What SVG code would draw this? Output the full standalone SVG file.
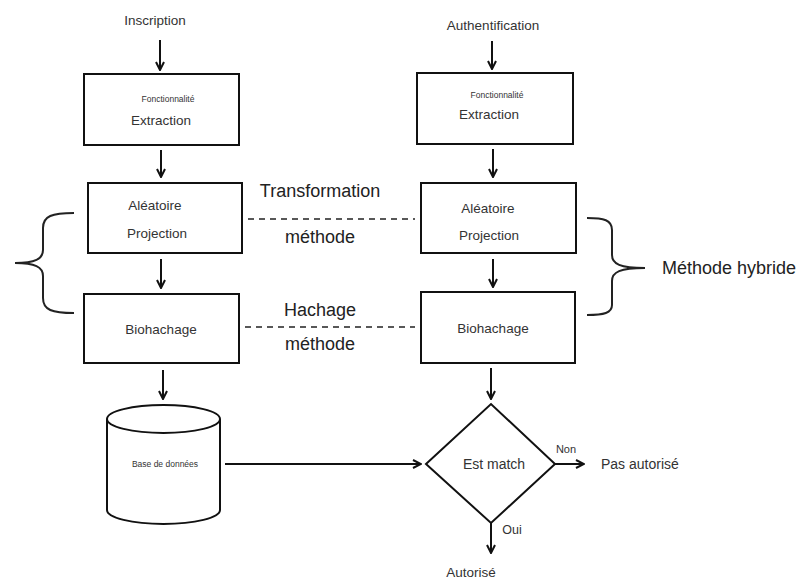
<svg xmlns="http://www.w3.org/2000/svg" width="800" height="580" viewBox="0 0 800 580">
<defs>
<style>
.box{fill:#fff;stroke:#111;stroke-width:2}
.ln{fill:none;stroke:#111;stroke-width:2}
.dash{fill:none;stroke:#222;stroke-width:1.5;stroke-dasharray:6 5}
.brace{fill:none;stroke:#222;stroke-width:2}
text{font-family:"Liberation Sans",Arial,sans-serif;fill:#333;text-anchor:middle;dominant-baseline:central}
.t{font-size:13.5px}
.s{font-size:8.5px}
.big{font-size:18px;fill:#222}
</style>
<marker id="ah" viewBox="0 0 10 10" refX="9" refY="5" markerWidth="10" markerHeight="10" markerUnits="userSpaceOnUse" orient="auto">
<path d="M1,1 L9,5 L1,9" fill="none" stroke="#111" stroke-width="2"/>
</marker>
</defs>
<rect width="800" height="580" fill="#fff"/>

<g id="inscription"><text class="t" x="155" y="20">Inscription</text></g>
<g id="authentification"><text class="t" x="493" y="25">Authentification</text></g>

<g id="extraction-left">
<rect class="box" x="84" y="74" width="155" height="71"/>
<text class="s" x="168" y="99">Fonctionnalité</text>
<text class="t" x="161" y="120">Extraction</text>
</g>
<g id="extraction-right">
<rect class="box" x="417" y="73" width="156" height="71"/>
<text class="s" x="497" y="95">Fonctionnalité</text>
<text class="t" x="489" y="114">Extraction</text>
</g>

<g id="projection-left">
<rect class="box" x="88" y="183" width="154" height="70"/>
<text class="t" x="155" y="205">Aléatoire</text>
<text class="t" x="157" y="233">Projection</text>
</g>
<g id="projection-right">
<rect class="box" x="421" y="183" width="155" height="70"/>
<text class="t" x="488" y="208">Aléatoire</text>
<text class="t" x="489" y="235">Projection</text>
</g>

<g id="biohachage-left">
<rect class="box" x="84" y="294" width="155" height="69"/>
<text class="t" x="161" y="329">Biohachage</text>
</g>
<g id="biohachage-right">
<rect class="box" x="421" y="292" width="154" height="71"/>
<text class="t" x="493" y="328">Biohachage</text>
</g>

<g id="transformation-label">
<text class="big" x="320" y="191">Transformation</text>
<text class="big" x="320" y="237">méthode</text>
</g>
<g id="hachage-label">
<text class="big" x="320" y="310">Hachage</text>
<text class="big" x="320" y="344">méthode</text>
</g>

<g id="brace-left">
<path class="brace" d="M74,213 C52,213 43,216 43,228 L43,250 C43,259 35,263 15,263 C35,263 43,267 43,276 L43,298 C43,310 52,313 74,313"/>
</g>
<g id="brace-right">
<path class="brace" d="M587,218 C604,218 612,220 612,230 L612,255 C612,264 620,268 645,268 C620,268 612,272 612,281 L612,305 C612,313 604,315 587,315"/>
<text class="big" x="729" y="268">Méthode hybride</text>
</g>

<g id="database">
<path class="box" d="M107,419 L107,510 A56.5,14 0 0 0 220,510 L220,419"/>
<ellipse class="box" cx="163.5" cy="419" rx="56.5" ry="14"/>
<text class="s" x="165" y="464">Base de données</text>
</g>

<g id="decision">
<polygon class="box" points="426,464 491,404 555,464 491,523"/>
<text style="font-size:14px" x="494" y="464">Est match</text>
</g>

<g id="pas-autorise"><text style="font-size:14px;text-anchor:start" x="601" y="464">Pas autorisé</text></g>
<g id="autorise"><text class="t" x="471" y="572">Autorisé</text></g>

<g id="connectors">
<line class="ln" x1="160" y1="40" x2="160" y2="70" marker-end="url(#ah)"/>
<line class="ln" x1="492" y1="41" x2="492" y2="69" marker-end="url(#ah)"/>
<line class="ln" x1="161" y1="150" x2="161" y2="177" marker-end="url(#ah)"/>
<line class="ln" x1="493" y1="149" x2="493" y2="177" marker-end="url(#ah)"/>
<line class="ln" x1="161" y1="259" x2="161" y2="288" marker-end="url(#ah)"/>
<line class="ln" x1="493" y1="259" x2="493" y2="287" marker-end="url(#ah)"/>
<line class="ln" x1="163" y1="370" x2="163" y2="399" marker-end="url(#ah)"/>
<line class="ln" x1="491" y1="368" x2="491" y2="399" marker-end="url(#ah)"/>
<line class="dash" x1="248" y1="219" x2="415" y2="219"/>
<line class="dash" x1="245" y1="327" x2="415" y2="327"/>
<line class="ln" x1="225" y1="464" x2="421" y2="464" marker-end="url(#ah)"/>
<line class="ln" x1="555" y1="464" x2="584" y2="464" marker-end="url(#ah)"/>
<line class="ln" x1="491" y1="523" x2="491" y2="553" marker-end="url(#ah)"/>
<text style="font-size:11px" x="566" y="449">Non</text>
<text style="font-size:12.5px" x="512" y="530">Oui</text>
</g>
</svg>
